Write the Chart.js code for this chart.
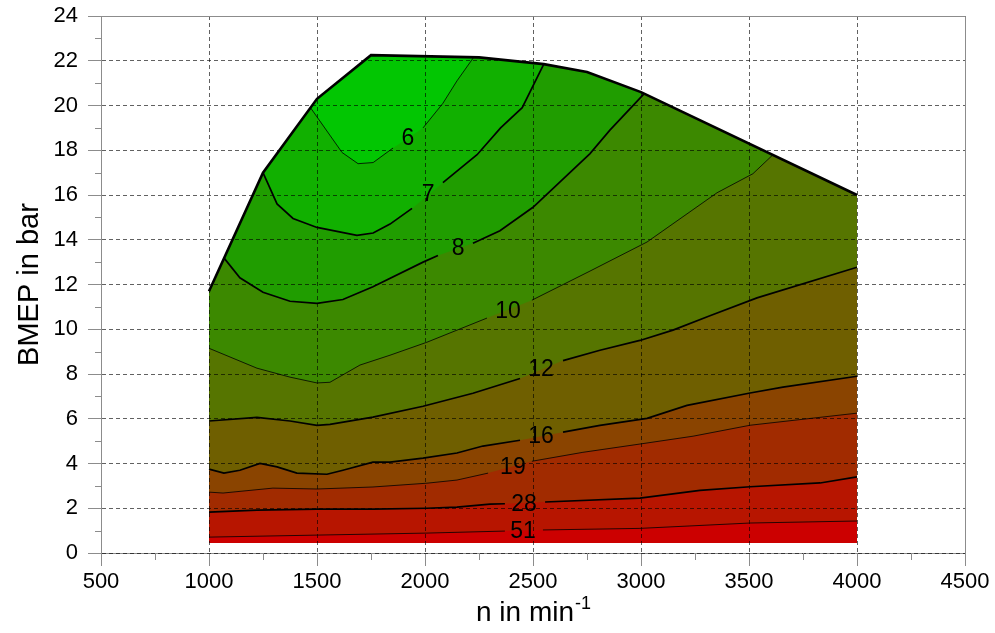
<!DOCTYPE html>
<html>
<head>
<meta charset="utf-8">
<script src="https://cdn.jsdelivr.net/npm/chart.js"></script>
<style>
  html, body { margin: 0; padding: 0; background: #fff; }
</style>
</head>
<body>
<canvas id="mapa" width="995" height="633"></canvas>
<script>
// limite superior do mapa (curva de plena carga)
const limite = [[1000,11.7],[1250,17.0],[1500,20.3],[1750,22.25],[2250,22.15],[2550,21.85],[2750,21.5],[3000,20.6],[4000,16.0]];
const pmeBase = 0.45;

// isolinhas, null = intervalo onde fica o rotulo
const iso6  = [[1470,19.9],[1616,17.9],[1690,17.4],[1760,17.45],[1852,18.1],null,[1991,19.0],[2083,20.1],[2148,21.1],[2225,22.15]];
const iso7  = [[1250,17.0],[1315,15.6],[1389,14.95],[1500,14.55],[1685,14.2],[1760,14.3],[1838,14.7],[1940,15.4],null,[2083,16.55],[2241,17.8],[2350,19.0],[2450,19.9],[2550,21.85]];
const iso8  = [[1070,13.18],[1143,12.3],[1250,11.65],[1375,11.25],[1500,11.16],[1620,11.33],[1759,11.9],[1991,13.0],[2060,13.3],null,[2222,13.84],[2347,14.4],[2500,15.45],[2764,17.85],[2856,18.9],[3015,20.53]];
const iso10 = [[1000,9.15],[1222,8.26],[1375,7.86],[1500,7.6],[1560,7.63],[1699,8.4],[1838,8.84],[2009,9.42],[2148,9.96],[2287,10.5],null,[2495,11.3],[2764,12.6],[3028,13.9],[3352,16.1],[3518,16.95],[3610,17.79]];
const iso12 = [[1000,5.9],[1222,6.06],[1375,5.9],[1500,5.7],[1560,5.75],[1759,6.07],[1991,6.56],[2222,7.14],[2440,7.8],null,[2639,8.6],[2810,9.06],[2995,9.5],[3148,9.96],[3319,10.6],[3537,11.4],[4000,12.77]];
const iso16 = [[1000,3.75],[1069,3.57],[1143,3.7],[1236,4.0],[1315,3.85],[1407,3.57],[1546,3.52],[1620,3.7],[1759,4.06],[1838,4.06],[1991,4.24],[2148,4.47],[2268,4.78],[2440,5.04],null,[2639,5.4],[2810,5.7],[3028,6.02],[3213,6.6],[3505,7.15],[3657,7.41],[4000,7.9]];
const iso19 = [[1000,2.72],[1065,2.68],[1296,2.9],[1500,2.86],[1759,2.95],[2009,3.12],[2148,3.26],[2292,3.57],null,[2495,4.1],[2731,4.5],[2995,4.87],[3241,5.22],[3505,5.71],[4000,6.25]];
const iso28 = [[1000,1.83],[1222,1.92],[1500,1.96],[1759,1.96],[2009,2.0],[2148,2.05],[2301,2.18],[2370,2.2],null,[2556,2.28],[2995,2.45],[3273,2.8],[3505,2.96],[3829,3.13],[4000,3.4]];
const iso51 = [[1000,0.71],[1500,0.8],[2009,0.89],[2370,0.98],null,[2546,1.03],[2995,1.1],[3505,1.34],[4000,1.43]];

// rotulos das isolinhas: texto, n, pme
const rotulos = [['6',1921,18.5],['7',2014,16.0],['8',2153,13.6],['10',2384,10.8],['12',2537,8.2],['16',2537,5.18],['19',2407,3.8],['28',2458,2.14],['51',2454,0.94]];

const ticksX = [500,1000,1500,2000,2500,3000,3500,4000,4500];
const ticksY = [0,2,4,6,8,10,12,14,16,18,20,22,24];

// de baixo para cima
const linhas = [iso51, iso28, iso19, iso16, iso12, iso10, iso8, iso7, iso6];
const coresFaixa = ['#cc0000','#b71500','#a12b00','#8a4400','#6f5f00','#567500','#3c8900','#209d00','#11b000'];
const corTopo = '#02c602';
const espessura = [0.8, 1.7, 0.8, 1.7, 1.7, 0.8, 1.7, 1.7, 0.8];

const FONTE = "'Liberation Sans', Arial, sans-serif";

const paraPontos = arr => arr.map((p, i) => p ? { x: p[0], y: p[1] } : { x: (arr[i - 1][0] + arr[i + 1][0]) / 2, y: null });
const comLimite = arr => {
    const c = arr.filter(p => p);
    const x0 = c[0][0], x1 = c[c.length - 1][0];
    return [...limite.filter(p => p[0] < x0), ...c, ...limite.filter(p => p[0] > x1)];
};

const datasets = [];
linhas.forEach((l, i) => {
    datasets.push({
        data: paraPontos(comLimite(l)),
        fill: { value: pmeBase },
        backgroundColor: coresFaixa[i],
        borderWidth: 0, borderColor: 'transparent',
        pointRadius: 0, tension: 0
    });
});
datasets.push({
    data: paraPontos(limite),
    fill: { value: pmeBase },
    backgroundColor: corTopo,
    borderColor: '#000', borderWidth: 2.6,
    pointRadius: 0, tension: 0
});
linhas.forEach((l, i) => {
    datasets.push({
        data: paraPontos(l),
        fill: false,
        borderColor: '#000', borderWidth: espessura[i],
        pointRadius: 0, tension: 0, spanGaps: false
    });
});

const textoIsolinhas = {
    id: 'textoIsolinhas',
    afterDatasetsDraw(chart) {
        const { ctx, scales: { x, y } } = chart;
        ctx.save();
        ctx.font = `23px ${FONTE}`;
        ctx.fillStyle = '#000';
        ctx.textAlign = 'center';
        ctx.textBaseline = 'middle';
        rotulos.forEach(r => ctx.fillText(r[0], x.getPixelForValue(r[1]), y.getPixelForValue(r[2])));
        ctx.restore();
    }
};

const moldura = {
    id: 'moldura',
    afterDraw(chart) {
        const { ctx, chartArea: a, scales: { x, y } } = chart;
        ctx.save();
        ctx.strokeStyle = '#8c8c8c';
        ctx.lineWidth = 1;
        ctx.beginPath();
        for (let v = 750; v < 4500; v += 500) {
            const px = Math.round(x.getPixelForValue(v)) + 0.5;
            ctx.moveTo(px, a.bottom); ctx.lineTo(px, a.bottom + 7);
        }
        for (let v = 1; v < 24; v += 2) {
            const py = Math.round(y.getPixelForValue(v)) + 0.5;
            ctx.moveTo(a.left - 6, py); ctx.lineTo(a.left, py);
        }
        const t = Math.round(a.top) + 0.5, r = Math.round(a.right) + 0.5;
        ctx.moveTo(a.left, t); ctx.lineTo(r, t); ctx.lineTo(r, a.bottom);
        ctx.stroke();

        // titulos dos eixos
        ctx.fillStyle = '#000';
        ctx.font = `28px ${FONTE}`;
        ctx.textBaseline = 'alphabetic';
        const t1 = 'n in min', t2 = '-1';
        const w1 = ctx.measureText(t1).width;
        ctx.font = `18px ${FONTE}`;
        const w2 = ctx.measureText(t2).width;
        const cx = (a.left + a.right) / 2;
        const x0 = cx - (w1 + w2) / 2;
        ctx.font = `28px ${FONTE}`;
        ctx.textAlign = 'left';
        ctx.fillText(t1, x0, 621);
        ctx.font = `18px ${FONTE}`;
        ctx.fillText(t2, x0 + w1 + 1, 609);

        ctx.translate(30, (a.top + a.bottom) / 2);
        ctx.rotate(-Math.PI / 2);
        ctx.font = `29px ${FONTE}`;
        ctx.textAlign = 'center';
        ctx.textBaseline = 'middle';
        ctx.fillText('BMEP in bar', 0, 0);
        ctx.restore();
    }
};

const eixo = (min, max, passo, lista) => ({
    type: 'linear', min, max,
    afterBuildTicks: s => { s.ticks = lista.map(v => ({ value: v })); },
    ticks: { stepSize: passo, autoSkip: false, maxRotation: 0, color: '#000', font: { family: FONTE, size: 22 }, z: 1,
             callback: v => String(v) },
    grid: { color: 'rgba(0,0,0,0.62)', lineWidth: 1, tickLength: 13, tickColor: '#8c8c8c', z: 1 },
    border: { color: '#8c8c8c', width: 1, dash: [4, 3], z: 1 }
});

const escalaX = eixo(500, 4500, 500, ticksX);
escalaX.afterFit = s => { s.height = 80; s.paddingLeft = 0; s.paddingRight = 0; };
const escalaY = eixo(0, 24, 2, ticksY);
escalaY.ticks.padding = 10;
escalaY.afterFit = s => { s.width = 101; s.paddingTop = 0; s.paddingBottom = 0; };

new Chart(document.getElementById('mapa'), {
    type: 'line',
    data: { datasets },
    options: {
        responsive: false,
        animation: false,
        events: [],
        layout: { padding: { top: 16, right: 30, left: 0, bottom: 0 } },
        plugins: {
            legend: { display: false },
            tooltip: { enabled: false },
            filler: { drawTime: 'beforeDatasetsDraw', propagate: false }
        },
        scales: { x: escalaX, y: escalaY }
    },
    plugins: [textoIsolinhas, moldura]
});
</script>
</body>
</html>
